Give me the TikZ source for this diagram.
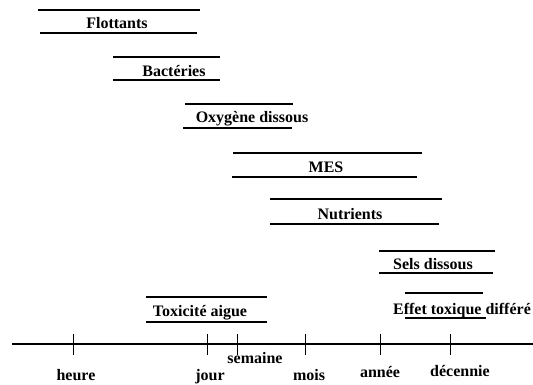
\documentclass[tikz,border=0pt]{standalone}
\usepackage{fontspec}
\setmainfont{Liberation Serif}
\begin{document}
\begin{tikzpicture}[x=1pt,y=-1pt,line width=1.3pt,
    lab/.style={anchor=base,inner sep=0pt,font=\bfseries\fontsize{16}{18}\selectfont}]
\useasboundingbox (0,0) rectangle (533,384);
% durees des effets
\draw (38,10)--(200,10); \draw (40,33)--(197,33);
\node[lab] (flottants) at (117,28){Flottants};
\draw (113,57)--(220,57); \draw (113,80)--(220,80);
\node[lab] (bacteries) at (174,76){Bactéries};
\draw (185,104)--(293,104); \draw (183,128)--(292,128);
\node[lab] (oxygene) at (252,122){Oxygène dissous};
\draw (233,153)--(422,153); \draw (232,177)--(417,177);
\node[lab] (mes) at (326,172){MES};
\draw (270,199)--(442,199); \draw (270,224)--(439,224);
\node[lab] (nutrients) at (350,219){Nutrients};
\draw (379,251)--(495,251); \draw (379,273)--(493,273);
\node[lab] (sels) at (433,269){Sels dissous};
\draw (405,293)--(483,293); \draw (405,318)--(486,318);
\node[lab] (effet) at (462,314){Effet toxique différé};
\draw (146,297)--(267,297); \draw (146,322)--(267,322);
\node[lab] (toxicite) at (200,316){Toxicité aigue};

% echelle de temps
\draw[line width=1.5pt] (12,344)--(533,344);
\foreach \x in {73,207,237,305,380,450}
    \draw[line width=0.8pt] (\x,334)--(\x,355);
\node[lab] (heure) at (76,380){heure};
\node[lab] (jour) at (210,380){jour};
\node[lab] (semaine) at (255,363){semaine};
\node[lab] (mois) at (309,380){mois};
\node[lab] (annee) at (380,377){année};
\node[lab] (decennie) at (460,376){décennie};
\end{tikzpicture}
\end{document}
